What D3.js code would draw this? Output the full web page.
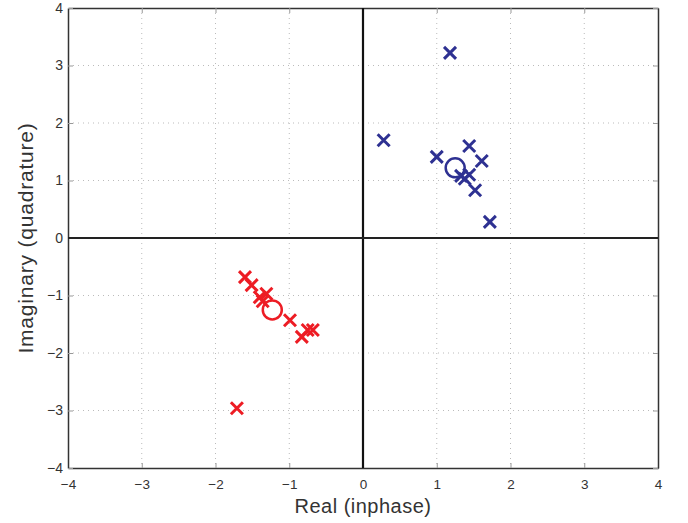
<!DOCTYPE html>
<html><head><meta charset="utf-8">
<script src="https://cdn.jsdelivr.net/npm/d3@7"></script>
<style>body{margin:0;background:#fff}</style>
</head><body>
<svg id="c" width="688" height="523"></svg>
<script>
const ticks = [-4,-3,-2,-1,0,1,2,3,4];
const blueRe = [1.18, 0.28, 1.00, 1.44, 1.61, 1.33, 1.38, 1.44, 1.52, 1.72];
const blueIm = [3.22, 1.70, 1.41, 1.60, 1.34, 1.08, 1.03, 1.10, 0.83, 0.28];
const blueMean = [1.25, 1.22];
const redRe = [-1.60, -1.51, -1.40, -1.31, -1.36, -0.99, -0.83, -0.75, -0.68, -1.71];
const redIm = [-0.68, -0.82, -1.03, -0.97, -1.10, -1.43, -1.72, -1.60, -1.60, -2.96];
const redMean = [-1.23, -1.25];
const blue = "#2e3192", red = "#ed1c24";

const svg = d3.select("#c");
const L=68, R=658, T=8, B=468;
const x = d3.scaleLinear().domain([-4,4]).range([L,R]);
const y = d3.scaleLinear().domain([-4,4]).range([B,T]);
const FONT = "Liberation Sans, Arial, sans-serif";

const g = svg.append("g");
// grid
ticks.slice(1,-1).forEach(t=>{
  g.append("line").attr("x1",x(t)).attr("x2",x(t)).attr("y1",T).attr("y2",B)
   .attr("stroke","#bbb").attr("stroke-width",1).attr("stroke-dasharray","1,4");
  g.append("line").attr("y1",y(t)).attr("y2",y(t)).attr("x1",L).attr("x2",R)
   .attr("stroke","#bbb").attr("stroke-width",1).attr("stroke-dasharray","1,4");
});
const fmt = d=>d<0?"\u2212"+(-d):d;
// axes
const xb = svg.append("g").attr("transform",`translate(0,${B})`)
  .call(d3.axisBottom(x).tickValues(ticks).tickSizeInner(-5).tickSizeOuter(0).tickPadding(11).tickFormat(fmt));
const xt = svg.append("g").attr("transform",`translate(0,${T})`)
  .call(d3.axisTop(x).tickValues(ticks).tickSizeInner(-5).tickSizeOuter(0).tickFormat(""));
const yl = svg.append("g").attr("transform",`translate(${L},0)`)
  .call(d3.axisLeft(y).tickValues(ticks).tickSizeInner(-5).tickSizeOuter(0).tickPadding(5).tickFormat(fmt));
const yr = svg.append("g").attr("transform",`translate(${R},0)`)
  .call(d3.axisRight(y).tickValues(ticks).tickSizeInner(-5).tickSizeOuter(0).tickFormat(""));
[xb,xt,yl,yr].forEach(a=>{
  a.selectAll("path").attr("stroke","#333").attr("stroke-width",1.5);
  a.selectAll("line").attr("stroke","#999");
  a.selectAll("text").attr("fill","#333").style("font-family",FONT).style("font-size","14px");
});
xb.selectAll("text").style("font-size","13.5px");
// zero axes
svg.append("line").attr("x1",x(0)).attr("x2",x(0)).attr("y1",T).attr("y2",B).attr("stroke","#111").attr("stroke-width",2.2);
svg.append("line").attr("x1",L).attr("x2",R).attr("y1",y(0)).attr("y2",y(0)).attr("stroke","#222").attr("stroke-width",2);

function crosses(re, im, col){
  const s=6;
  const pg = svg.append("g");
  re.forEach((r,i)=>{
    const cx=x(r), cy=y(im[i]);
    pg.append("path").attr("d",`M${cx-s},${cy-s}L${cx+s},${cy+s}M${cx-s},${cy+s}L${cx+s},${cy-s}`)
      .attr("stroke",col).attr("stroke-width",3).attr("fill","none");
  });
}
crosses(blueRe, blueIm, blue);
crosses(redRe, redIm, red);
[[blueMean,blue],[redMean,red]].forEach(([m,c])=>{
  svg.append("circle").attr("cx",x(m[0])).attr("cy",y(m[1])).attr("r",9.5)
    .attr("fill","none").attr("stroke",c).attr("stroke-width",2.5);
});
// labels
svg.append("text").attr("x",x(0)).attr("y",513).attr("text-anchor","middle")
  .style("font-family",FONT).style("font-size","20px").style("letter-spacing","0.5px").attr("fill","#333").text("Real (inphase)");
svg.append("text").attr("transform",`translate(33,${y(0)}) rotate(-90)`).attr("text-anchor","middle")
  .style("font-family",FONT).style("font-size","21px").style("letter-spacing","0.8px").attr("fill","#333").text("Imaginary (quadrature)");
</script>
</body></html>
